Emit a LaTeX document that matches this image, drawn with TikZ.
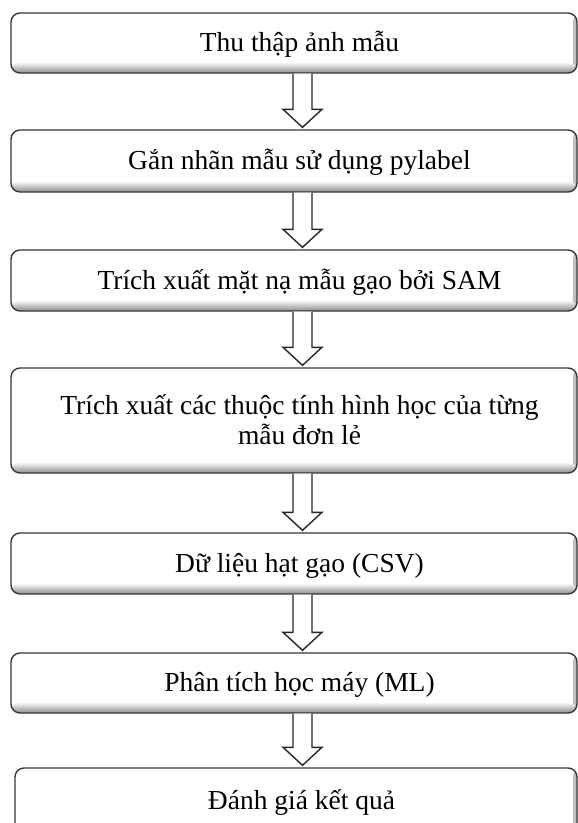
\documentclass[tikz,border=0pt]{standalone}
\usepackage{fontspec}
\setmainfont{Liberation Serif}
\usetikzlibrary{calc}
\newcommand\blockarr[2]{%
  \draw[barrow] let \p1=(#1.south), \p2=(#2.north) in
    (293pt,\y1) -- (293pt,\y2+20pt) -- (283pt,\y2+20pt) -- (302.5pt,\y2+2pt)
    -- (322pt,\y2+20pt) -- (312pt,\y2+20pt) -- (312pt,\y1);%
}
\begin{document}
\begin{tikzpicture}[x=1pt,y=1pt,
  box/.style={draw=black!78, line width=1.4pt, rounded corners=9pt, fill=white, inner sep=0pt,
    path picture={
      \shade[left color=white, right color=black!25]
        ([xshift=-4pt]path picture bounding box.north east) rectangle (path picture bounding box.south east);
      \shade[top color=white, bottom color=black!45]
        ([yshift=11pt]path picture bounding box.south west) rectangle (path picture bounding box.south east);
    }},
  lbl/.style={font=\fontsize{27.5}{30}\selectfont, align=center, inner sep=0pt, anchor=base},
  barrow/.style={draw=black!85, line width=1.4pt, fill=white, line join=miter}
]
\useasboundingbox (0,0) rectangle (578,-823);

\node[box, minimum width=566pt, minimum height=60pt]  (b1) at (294,-43)    {};
\node[box, minimum width=566pt, minimum height=62pt]  (b2) at (294,-161)   {};
\node[box, minimum width=566pt, minimum height=61pt]  (b3) at (294,-280.5) {};
\node[box, minimum width=566pt, minimum height=105pt] (b4) at (294,-420.5) {};
\node[box, minimum width=566pt, minimum height=61pt]  (b5) at (294,-563.5) {};
\node[box, minimum width=566pt, minimum height=60pt]  (b6) at (294,-683)   {};
\node[box, minimum width=562pt, minimum height=66pt]  (b7) at (296,-801)   {};

\node[lbl] (t1) at ([xshift=5.5pt,yshift=-8.5pt]b1.center) {Thu thập ảnh mẫu};
\node[lbl] (t2) at ([xshift=5.5pt,yshift=-8.5pt]b2.center) {Gắn nhãn mẫu sử dụng pylabel};
\node[lbl] (t3) at ([xshift=5.5pt,yshift=-8.5pt]b3.center) {Trích xuất mặt nạ mẫu gạo bởi SAM};
\node[lbl] (t4) at ([xshift=5.5pt,yshift=-23.5pt]b4.center) {Trích xuất các thuộc tính hình học của từng\\mẫu đơn lẻ};
\node[lbl] (t5) at ([xshift=5.5pt,yshift=-8.5pt]b5.center) {Dữ liệu hạt gạo (CSV)};
\node[lbl] (t6) at ([xshift=5.5pt,yshift=-8.5pt]b6.center) {Phân tích học máy (ML)};
\node[lbl] (t7) at ([xshift=5.5pt,yshift=-8.5pt]b7.center) {Đánh giá kết quả};

\blockarr{b1}{b2}
\blockarr{b2}{b3}
\blockarr{b3}{b4}
\blockarr{b4}{b5}
\blockarr{b5}{b6}
\blockarr{b6}{b7}
\end{tikzpicture}
\end{document}
